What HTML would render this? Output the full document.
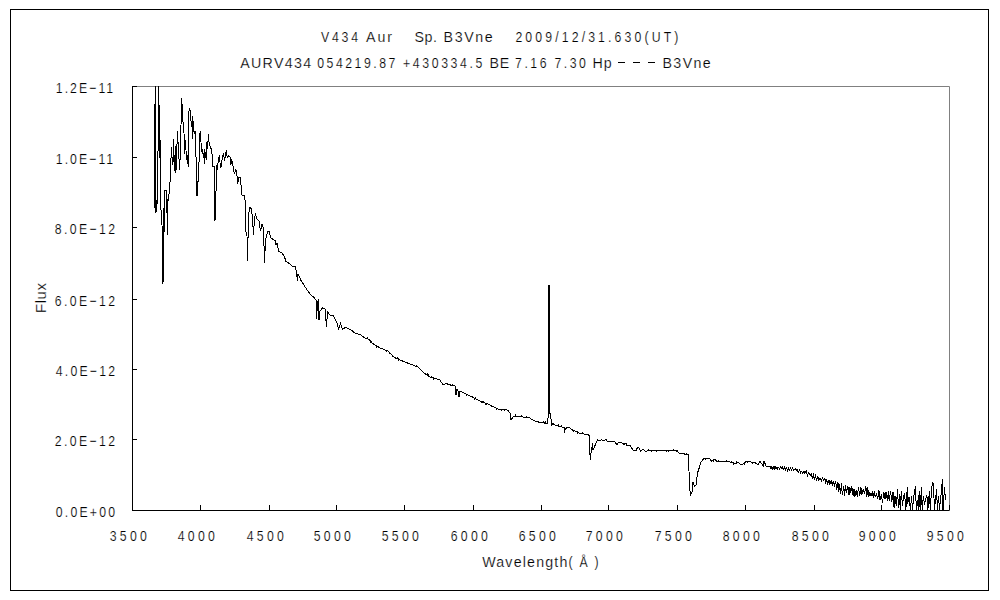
<!DOCTYPE html>
<html><head><meta charset="utf-8"><style>
html,body{margin:0;padding:0;background:#fff;}
svg{display:block;}
.t{font-family:"Liberation Sans",sans-serif;font-size:15.0px;fill:#000;stroke:#fff;stroke-width:0.2px;}
</style></head><body>
<svg width="1000" height="600" viewBox="0 0 1000 600">
<defs><clipPath id="c"><rect x="132" y="86" width="818" height="425"/></clipPath></defs>
<rect width="1000" height="600" fill="#fff"/>
<rect x="10.5" y="9.5" width="978" height="581" fill="none" stroke="#000" stroke-width="1"/>
<path d="M132.5,86.5H949.5V510.5" fill="none" stroke="#808080" stroke-width="1"/>
<polyline points="154.4,173.0 154.4,207.6 155.0,104.0 155.2,200.0 155.4,104.0 155.6,80.0 156.0,212.5 156.8,201.8 157.5,203.0 158.3,122.0 158.6,80.0 159.3,122.0 159.8,158.0 160.3,140.0 160.6,200.4 161.0,209.5 162.0,225.0 163.0,284.3 163.4,208.0 164.1,232.0 164.5,191.0 166.8,190.4 167.2,234.5 168.0,200.0 168.6,200.6 169.0,194.2 169.6,182.2 170.4,182.0 170.6,166.4 171.5,147.2 172.3,162.0 172.8,165.0 173.5,139.0 174.2,170.6 175.5,146.2 175.9,173.4 177.5,131.0 178.3,148.0 179.0,159.0 179.5,169.6 180.5,152.0 181.5,98.0 182.2,106.0 183.0,122.0 184.0,133.0 184.5,153.5 185.5,140.0 186.5,160.0 187.5,155.0 188.2,166.5 188.6,113.0 189.5,108.0 190.5,112.0 191.0,121.0 191.8,121.0 192.4,139.2 192.8,116.0 193.5,131.0 194.5,132.6 195.2,131.0 195.5,155.4 196.7,160.0 197.0,196.0 198.5,174.0 198.8,182.0 199.3,136.2 200.5,131.0 201.4,151.0 202.5,150.0 203.5,158.0 204.4,149.4 204.6,163.5 205.5,152.0 206.6,159.6 206.8,142.2 207.7,149.0 208.3,134.1 209.3,145.0 210.4,146.4 211.3,149.4 212.2,155.4 212.6,166.2 214.4,166.2 215.0,220.5 216.2,186.0 216.5,165.3 217.4,170.0 218.5,158.0 219.5,155.4 220.2,165.0 221.0,167.4 222.0,160.0 223.4,153.3 224.6,160.8 225.5,155.0 226.4,150.0 227.2,158.0 228.5,156.0 230.0,157.0 230.8,165.0 231.5,160.0 232.5,162.0 233.2,168.0 234.5,174.0 235.5,170.0 236.5,171.0 237.2,178.0 237.8,183.6 238.5,178.0 240.2,177.3 241.4,189.0 242.0,195.0 244.5,195.0 245.5,204.0 245.6,230.0 247.0,236.0 247.5,260.5 248.5,217.0 249.5,207.5 251.5,208.5 252.5,220.0 253.5,234.5 254.5,218.0 255.5,214.5 257.0,219.0 259.0,221.0 260.5,231.0 262.0,224.5 263.5,228.0 264.5,262.5 265.5,240.0 267.5,232.0 269.0,231.5 271.0,238.0 274.0,240.0 275.5,241.0 276.0,245.0 277.0,243.0 278.5,251.0 282.0,253.0 284.5,257.0 286.0,261.5 290.0,264.0 293.0,267.0 295.0,266.5 296.0,270.0 297.5,281.0 298.0,274.0 299.0,276.0 301.0,280.5 304.0,285.0 307.0,290.0 310.0,294.0 311.5,295.3 313.0,296.7 314.5,298.0 316.0,300.0 316.5,319.0 317.5,303.0 318.5,299.0 319.0,320.0 320.0,311.0 322.5,308.0 325.0,309.0 326.5,327.0 327.5,312.0 330.0,315.0 331.8,315.5 333.5,316.0 337.0,323.0 338.5,329.0 340.5,323.5 342.5,329.0 344.0,328.2 345.5,327.5 347.3,328.3 349.2,329.2 351.0,330.0 353.0,331.5 353.1,333.1 353.2,331.5 355.0,333.0 356.7,333.5 358.3,334.0 360.0,334.5 361.7,335.7 363.3,336.8 363.4,338.4 363.5,336.8 365.0,338.0 367.0,338.8 367.1,337.1 367.2,338.8 369.0,339.5 370.5,341.2 370.6,342.9 370.7,341.2 372.0,343.0 373.6,344.0 375.2,345.0 376.8,346.0 376.9,347.6 377.0,346.0 378.4,347.0 380.0,348.0 381.6,348.6 383.2,349.2 384.8,349.8 386.4,350.4 386.5,352.0 386.6,350.4 388.0,351.0 389.5,352.5 389.6,354.1 389.7,352.5 391.0,354.0 392.5,355.5 392.6,357.1 392.7,355.5 394.0,357.0 395.5,357.8 395.6,359.4 395.7,357.8 397.0,358.5 397.1,356.9 397.2,358.5 398.5,359.2 398.6,360.9 398.7,359.2 400.0,360.0 401.7,360.7 403.3,361.3 405.0,362.0 406.7,362.7 408.3,363.3 410.0,364.0 411.6,364.6 413.2,365.2 414.8,365.8 416.4,366.4 416.5,364.8 416.6,366.4 418.0,367.0 419.5,368.5 421.0,370.0 422.5,371.5 424.0,373.0 425.5,374.0 427.0,375.0 427.1,373.4 427.2,375.0 428.5,376.0 428.6,374.4 428.7,376.0 430.0,377.0 431.7,377.5 431.8,375.9 431.9,377.5 433.3,378.0 433.4,379.6 433.5,378.0 435.0,378.5 436.7,379.0 438.3,379.5 440.0,380.0 443.0,385.0 444.5,384.3 446.0,383.6 447.5,384.0 449.0,384.4 450.5,384.8 450.6,386.4 450.7,384.8 452.0,385.2 452.1,383.6 452.2,385.2 453.5,385.6 455.0,386.0 456.0,395.0 457.0,389.0 458.0,391.0 459.0,397.0 460.0,391.0 461.6,391.8 463.2,392.6 464.8,393.4 466.4,394.2 466.5,395.8 466.6,394.2 468.0,395.0 469.5,395.8 471.0,396.5 472.5,397.2 472.6,395.6 472.7,397.2 474.0,398.0 474.1,399.6 474.2,398.0 475.5,398.8 475.6,397.1 475.7,398.8 477.0,399.5 478.5,400.2 480.0,401.0 481.7,401.7 481.8,403.3 481.9,401.7 483.3,402.3 483.4,400.7 483.5,402.3 485.0,403.0 485.1,404.6 485.2,403.0 486.7,403.7 486.8,405.3 486.9,403.7 488.3,404.3 490.0,405.0 491.6,405.8 491.7,407.4 491.8,405.8 493.2,406.6 494.8,407.4 496.4,408.2 496.5,409.8 496.6,408.2 498.0,409.0 499.5,409.2 501.0,409.3 501.1,410.9 501.2,409.3 502.5,409.5 504.0,409.7 504.1,411.3 504.2,409.7 505.5,409.8 507.0,410.0 508.5,411.5 508.6,409.9 508.7,411.5 510.0,413.0 511.0,420.0 514.0,416.0 515.5,416.1 515.6,414.4 515.7,416.1 517.0,416.1 518.5,416.1 520.0,416.2 521.5,416.6 521.6,415.0 521.7,416.6 523.0,417.0 524.6,417.2 526.3,417.4 526.4,415.8 526.5,417.4 528.0,417.6 529.6,417.8 531.6,419.2 533.6,420.6 535.2,421.0 536.8,421.4 538.4,421.8 538.5,423.4 538.6,421.8 540.0,422.2 541.6,422.6 543.5,422.9 543.6,421.3 543.7,422.9 545.3,423.1 545.4,421.5 545.5,423.1 547.2,423.4 547.6,418.2 548.2,418.0 548.3,285.3 549.2,285.3 549.3,413.4 550.5,413.4 550.6,418.6 551.6,420.0 551.7,426.2 552.8,423.4 554.4,424.6 556.0,425.8 558.0,426.0 558.1,424.4 558.2,426.0 560.0,426.2 561.6,426.8 561.7,425.2 561.8,426.8 563.2,427.4 564.2,427.4 564.4,433.4 564.6,429.4 565.2,429.4 567.2,427.4 569.6,427.8 572.0,429.8 573.6,430.4 573.7,432.0 573.8,430.4 575.2,431.0 577.2,432.0 577.3,433.6 577.4,432.0 579.2,433.0 580.8,433.3 582.4,433.7 582.5,432.1 582.6,433.7 584.0,434.0 586.0,434.2 588.0,434.5 589.5,436.0 589.6,452.0 590.5,459.5 591.0,453.0 592.5,443.5 593.0,450.0 595.0,445.5 597.5,440.0 600.0,440.5 601.5,439.5 604.0,441.0 606.0,439.5 607.5,441.5 609.0,441.6 610.5,441.7 612.0,441.8 613.5,441.9 615.0,442.0 617.0,445.0 618.5,442.5 620.0,442.7 621.5,442.9 623.0,443.1 623.1,444.7 623.2,443.1 624.5,443.3 624.6,444.9 624.7,443.3 626.0,443.5 627.0,445.5 628.8,445.8 630.5,446.0 633.5,451.0 636.0,450.5 637.5,447.5 639.0,448.0 640.5,451.0 643.0,449.5 644.5,450.5 646.0,451.5 648.0,450.8 648.1,449.1 648.2,450.8 650.0,450.0 651.7,450.0 651.8,451.6 651.9,450.0 653.3,450.0 655.0,450.0 656.7,450.0 656.8,451.6 656.9,450.0 658.3,450.0 660.0,450.0 661.7,450.1 663.3,450.2 665.0,450.2 666.7,450.3 666.8,451.9 666.9,450.3 668.3,450.4 668.4,452.0 668.5,450.4 670.0,450.5 671.5,450.5 673.0,450.5 673.1,448.9 673.2,450.5 674.5,450.5 676.0,450.5 677.5,451.8 677.6,450.1 677.7,451.8 679.0,453.0 680.7,453.2 682.3,453.3 684.0,453.5 685.0,454.5 686.8,454.8 686.9,453.1 687.0,454.8 688.5,455.0 688.6,459.0 689.5,486.5 690.5,495.0 692.0,492.0 693.0,482.5 694.5,486.5 696.0,485.5 697.5,473.0 699.5,467.0 701.0,462.0 703.5,459.0 705.2,458.8 705.4,460.4 705.5,458.8 707.0,458.5 708.5,458.8 710.0,459.0 711.5,461.0 713.2,460.2 713.4,461.9 713.5,460.2 715.0,459.5 717.0,461.5 718.7,461.5 718.8,459.9 718.9,461.5 720.3,461.5 722.0,461.5 723.6,461.6 725.2,461.7 726.8,461.8 726.9,460.2 727.0,461.8 728.4,461.9 730.0,462.0 731.7,462.5 731.8,460.9 731.9,462.5 733.3,463.0 733.4,464.6 733.5,463.0 735.0,463.5 736.5,463.0 736.6,461.4 736.7,463.0 738.0,462.5 740.0,463.8 742.0,465.0 744.0,463.2 744.1,464.9 744.2,463.2 746.0,461.5 747.5,461.7 747.6,463.3 747.7,461.7 749.0,461.8 750.5,462.0 752.0,462.2 752.1,463.8 752.2,462.2 753.5,462.3 755.0,462.5 756.5,463.8 758.0,465.0 760.0,461.5 763.5,466.0 764.0,461.0 766.0,466.0 770.0,466.4 770.9,468.7 771.7,466.7 772.8,469.4 773.9,466.0 774.9,469.4 775.8,466.5 777.1,469.3 778.0,466.8 779.4,468.8 780.4,467.3 781.2,468.7 782.2,466.6 783.1,469.7 784.4,467.1 785.5,469.7 786.5,467.8 787.4,470.5 788.3,468.1 789.4,470.4 790.5,468.1 791.5,469.9 792.7,468.0 793.9,470.4 795.2,468.8 796.2,470.5 797.0,469.3 798.3,472.5 799.4,469.8 800.6,472.7 801.7,471.2 802.7,473.2 803.9,470.9 804.9,473.3 806.3,471.0 807.5,475.5 808.7,472.6 810.1,475.5 811.1,473.5 812.3,477.7 813.4,474.6 814.2,479.4 815.5,475.9 816.4,480.3 817.8,476.6 818.8,480.2 820.2,478.2 821.5,480.9 822.5,478.0 823.9,480.4 824.8,478.2 825.7,482.3 826.8,479.5 827.7,484.7 828.8,479.7 829.9,484.3 831.2,480.5 832.3,485.5 833.2,481.7 834.4,485.2 835.7,480.8 836.7,489.7 837.9,481.6 838.8,491.7 839.7,484.0 840.5,494.3 841.4,483.4 842.4,495.3 843.7,485.8 844.6,495.6 845.6,485.1 846.5,492.7 847.9,486.5 849.0,495.1 849.8,487.0 850.8,492.9 851.7,486.4 853.1,495.5 854.0,489.0 854.8,496.6 856.2,490.4 857.4,497.4 858.4,487.0 859.7,495.8 860.9,487.2 861.9,494.5 863.3,489.2 864.5,494.3 865.8,486.1 866.9,496.5 867.7,487.2 868.7,497.1 869.9,492.6 871.0,495.5 872.4,492.8 873.4,498.0 874.3,490.6 875.2,497.3 876.6,493.2 877.7,499.4 878.9,490.4 880.1,500.2 881.4,493.8 882.5,503.1 883.8,491.6 885.0,498.6 886.1,491.9 887.5,501.2 888.4,490.7 889.2,501.2 890.5,490.8 891.8,501.5 893.0,491.7 894.1,507.8 895.0,495.8 896.4,506.4 897.5,489.3 898.5,508 899.4,494 900.3,510 901.3,491.2 902.5,506 903.5,497 904.6,493 905.8,510 907.4,487 907.8,503.6 909,497 910.5,510 911.5,496 912.5,510 913.5,498 915.4,486.3 916.4,510 917.5,500 918.3,510 919.2,491.2 920.2,510 921.4,487.4 922.2,510 923.3,496 924.5,505 925.5,500 926.9,495.4 927.8,510 929.4,491.2 930.3,510 931.5,490 932.4,482.2 933.5,483.5 934.4,510 935.5,500 936.5,489.3 937.5,510 938.5,496 939.5,510 940.5,499 941.5,492 942.3,479 943,510 944.5,487.4 945.2,498 945.6,494 946,500" fill="none" stroke="#000" stroke-width="1" shape-rendering="crispEdges" clip-path="url(#c)"/>
<path d="M132.5,86.5V510.5H949.5" fill="none" stroke="#000" stroke-width="1"/>
<path d="M132,510.5h5M132,439.5h5M132,369.5h5M132,299.5h5M132,227.5h5M132,157.5h5M132,86.5h5M132.5,510v-5M200.5,510v-5M269.5,510v-5M336.5,510v-5M404.5,510v-5M473.5,510v-5M541.5,510v-5M608.5,510v-5M677.5,510v-5M745.5,510v-5M814.5,510v-5M881.5,510v-5M949.5,510v-5" stroke="#000" stroke-width="1" fill="none"/>
<text class="t" transform="translate(55.80,517) scale(0.82,1)" textLength="72.20" lengthAdjust="spacing">0.0E+00</text>
<text class="t" transform="translate(54.80,446) scale(0.82,1)" textLength="73.41" lengthAdjust="spacing">2.0E−12</text>
<text class="t" transform="translate(55.80,376) scale(0.82,1)" textLength="72.20" lengthAdjust="spacing">4.0E−12</text>
<text class="t" transform="translate(54.80,306) scale(0.82,1)" textLength="73.41" lengthAdjust="spacing">6.0E−12</text>
<text class="t" transform="translate(54.80,234) scale(0.82,1)" textLength="73.41" lengthAdjust="spacing">8.0E−12</text>
<text class="t" transform="translate(55.80,164) scale(0.82,1)" textLength="70.00" lengthAdjust="spacing">1.0E−11</text>
<text class="t" transform="translate(55.80,93) scale(0.82,1)" textLength="70.00" lengthAdjust="spacing">1.2E−11</text>
<text class="t" transform="translate(109.80,541) scale(0.82,1)" textLength="45.12" lengthAdjust="spacing">3500</text>
<text class="t" transform="translate(177.80,541) scale(0.82,1)" textLength="45.12" lengthAdjust="spacing">4000</text>
<text class="t" transform="translate(246.80,541) scale(0.82,1)" textLength="45.12" lengthAdjust="spacing">4500</text>
<text class="t" transform="translate(313.80,541) scale(0.82,1)" textLength="45.12" lengthAdjust="spacing">5000</text>
<text class="t" transform="translate(381.80,541) scale(0.82,1)" textLength="45.12" lengthAdjust="spacing">5500</text>
<text class="t" transform="translate(450.80,541) scale(0.82,1)" textLength="45.12" lengthAdjust="spacing">6000</text>
<text class="t" transform="translate(518.80,541) scale(0.82,1)" textLength="45.12" lengthAdjust="spacing">6500</text>
<text class="t" transform="translate(585.80,541) scale(0.82,1)" textLength="45.12" lengthAdjust="spacing">7000</text>
<text class="t" transform="translate(654.80,541) scale(0.82,1)" textLength="45.12" lengthAdjust="spacing">7500</text>
<text class="t" transform="translate(722.80,541) scale(0.82,1)" textLength="45.12" lengthAdjust="spacing">8000</text>
<text class="t" transform="translate(791.80,541) scale(0.82,1)" textLength="45.12" lengthAdjust="spacing">8500</text>
<text class="t" transform="translate(858.80,541) scale(0.82,1)" textLength="45.12" lengthAdjust="spacing">9000</text>
<text class="t" transform="translate(926.80,541) scale(0.82,1)" textLength="45.12" lengthAdjust="spacing">9500</text>
<text class="t" transform="translate(482.20,567) scale(0.95,1)" textLength="89.68" lengthAdjust="spacing">Wavelength</text>
<text class="t" transform="translate(568.60,567) scale(0.82,1)" textLength="36.59" lengthAdjust="spacing">(Å)</text>
<text class="t" transform="translate(321.00,42) scale(0.82,1)" textLength="45.12" lengthAdjust="spacing">V434</text>
<text class="t" transform="translate(366.00,42) scale(0.95,1)" textLength="27.37" lengthAdjust="spacing">Aur</text>
<text class="t" transform="translate(414.40,42) scale(0.95,1)" textLength="23.79" lengthAdjust="spacing">Sp.</text>
<text class="t" transform="translate(443.60,42) scale(0.95,1)" textLength="51.58" lengthAdjust="spacing">B3Vne</text>
<text class="t" transform="translate(515.40,42) scale(0.82,1)" textLength="198.78" lengthAdjust="spacing">2009/12/31.630(UT)</text>
<text class="t" transform="translate(240.20,68) scale(0.95,1)" textLength="74.74" lengthAdjust="spacing">AURV434</text>
<text class="t" transform="translate(317.20,68) scale(0.82,1)" textLength="95.37" lengthAdjust="spacing">054219.87</text>
<text class="t" transform="translate(403.00,68) scale(0.82,1)" textLength="96.83" lengthAdjust="spacing">+430334.5</text>
<text class="t" transform="translate(489.60,68) scale(0.95,1)" textLength="20.63" lengthAdjust="spacing">BE</text>
<text class="t" transform="translate(515.00,68) scale(0.82,1)" textLength="38.54" lengthAdjust="spacing">7.16</text>
<text class="t" transform="translate(554.40,68) scale(0.82,1)" textLength="38.29" lengthAdjust="spacing">7.30</text>
<text class="t" transform="translate(592.60,68) scale(0.95,1)" textLength="20.21" lengthAdjust="spacing">Hp</text>
<text class="t" transform="translate(662.40,68) scale(0.95,1)" textLength="50.95" lengthAdjust="spacing">B3Vne</text>
<path d="M618,62h7v1h-7zM633,62h7v1h-7zM648,62h7v1h-7z" fill="#000"/>
<text class="t" transform="translate(45.5,298) rotate(-90)" text-anchor="middle" textLength="30" lengthAdjust="spacing">Flux</text>
</svg></body></html>
